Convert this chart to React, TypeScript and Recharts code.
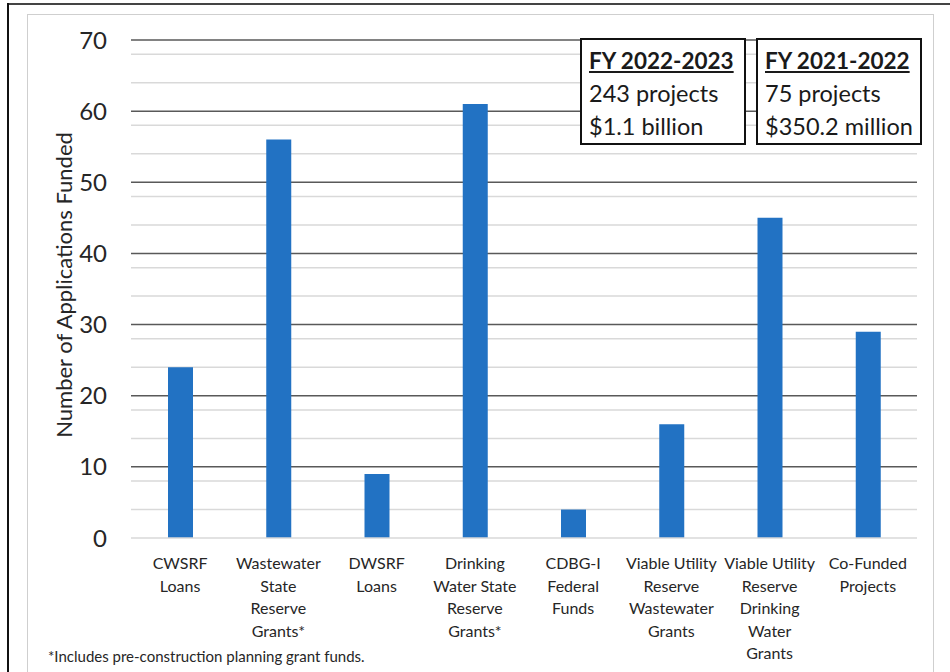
import React from "react";
import { BarChart, Bar, XAxis, YAxis, CartesianGrid } from "recharts";

const categories = [
  "CWSRF\nLoans",
  "Wastewater\nState\nReserve\nGrants*",
  "DWSRF\nLoans",
  "Drinking\nWater State\nReserve\nGrants*",
  "CDBG-I\nFederal\nFunds",
  "Viable Utility\nReserve\nWastewater\nGrants",
  "Viable Utility\nReserve\nDrinking\nWater\nGrants",
  "Co-Funded\nProjects",
];
const applicationsFunded = [24, 56, 9, 61, 4, 16, 45, 29];
const majorTicks = [0, 10, 20, 30, 40, 50, 60, 70];
const minorTicks = [2, 4, 6, 8, 12, 14, 16, 18, 22, 24, 26, 28, 32, 34, 36, 38, 42, 44, 46, 48, 52, 54, 56, 58, 62, 64, 66, 68];
const yAxisTitle = "Number of Applications Funded";
const boxes = [
  { title: "FY 2022-2023", projects: "243 projects", amount: "$1.1 billion" },
  { title: "FY 2021-2022", projects: "75 projects", amount: "$350.2 million" },
];
const footnote = "*Includes pre-construction planning grant funds.";

const data = categories.map((c, i) => ({ category: c, value: applicationsFunded[i] }));

const FONT = "Lato, 'Open Sans', sans-serif";
const TEXT = "#262626";

const XTick = (props: any) => {
  const { x, y, payload } = props;
  const lines = String(payload.value).split("\n");
  return (
    <text x={x} y={y + 31} textAnchor="middle" fill={TEXT} fontSize={16} fontFamily={FONT}>
      {lines.map((l, i) => (
        <tspan key={i} x={x} dy={i === 0 ? 0 : 22.5}>
          {l}
        </tspan>
      ))}
    </text>
  );
};

const YTitle = (props: any) => {
  const vb = props.viewBox || {};
  const cy = (vb.y ?? 40) + (vb.height ?? 498) / 2 - 4;
  const cx = 63;
  return (
    <text
      x={cx}
      y={cy}
      transform={`rotate(-90 ${cx} ${cy})`}
      textAnchor="middle"
      dominantBaseline="central"
      fill={TEXT}
      fontSize={22}
      fontFamily={FONT}
    >
      {yAxisTitle}
    </text>
  );
};

export default function App() {
  return (
    <div style={{ position: "absolute", left: 0, top: 0, width: 950, height: 672, background: "#fff", overflow: "hidden", fontFamily: FONT }}>
      <div style={{ position: "absolute", left: 7, top: 3, width: 943, height: 2, background: "#444" }} />
      <div style={{ position: "absolute", left: 7, top: 3, width: 2, height: 669, background: "#111" }} />
      <div style={{ position: "absolute", left: 27, top: 14, width: 905, height: 670, border: "1px solid #cfcfcf" }} />
      <div style={{ position: "absolute", left: 0, top: 0 }}>
        <BarChart width={950} height={672} data={data} margin={{ top: 40, right: 33, left: 0, bottom: 0 }}>
          <CartesianGrid horizontal={true} vertical={false} horizontalValues={minorTicks} stroke="#d9d9d9" strokeWidth={1.5} />
          <CartesianGrid horizontal={true} vertical={false} horizontalValues={majorTicks.filter((t) => t > 0)} stroke="#595959" strokeWidth={1.5} />
          <XAxis
            dataKey="category"
            interval={0}
            height={134}
            tickLine={false}
            tickSize={0}
            tickMargin={0}
            axisLine={{ stroke: "#d9d9d9", strokeWidth: 1.5 }}
            tick={<XTick />}
          />
          <YAxis
            domain={[0, 70]}
            ticks={majorTicks}
            width={131}
            axisLine={false}
            tickLine={false}
            tickSize={0}
            tickMargin={24}
            tick={{ fill: TEXT, fontSize: 24, fontFamily: FONT }}
            label={<YTitle />}
          />
          <Bar dataKey="value" fill="#2272C3" barSize={25} isAnimationActive={false} />
        </BarChart>
      </div>
      {boxes.map((b, i) => (
        <div
          key={i}
          style={{
            position: "absolute",
            left: 580 + i * 176,
            top: 38,
            width: 166,
            height: 107,
            border: "2px solid #111",
            background: "#fff",
            color: "#1a1a1a",
            fontSize: 23.5,
            lineHeight: "33px",
            paddingLeft: 7,
            paddingTop: 4,
            boxSizing: "border-box",
            whiteSpace: "nowrap",
          }}
        >
          <div style={{ fontWeight: 700, textDecoration: "underline", fontSize: 22.5 }}>{b.title}</div>
          <div>{b.projects}</div>
          <div>{b.amount}</div>
        </div>
      ))}
      <div style={{ position: "absolute", left: 48, top: 647, fontSize: 15, color: TEXT, whiteSpace: "nowrap" }}>{footnote}</div>
    </div>
  );
}
